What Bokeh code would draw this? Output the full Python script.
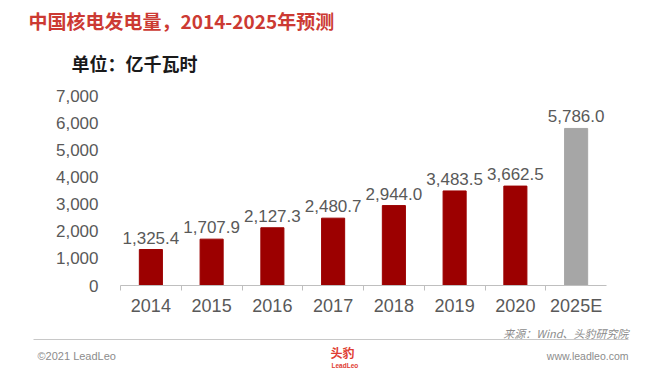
from bokeh.plotting import figure
from bokeh.layouts import column
from bokeh.models import (Range1d, FixedTicker, SingleIntervalTicker, NumeralTickFormatter,
                          ColumnDataSource)
from bokeh.core.properties import value
from bokeh.embed import file_html
from bokeh.resources import INLINE

categories = ["2014", "2015", "2016", "2017", "2018", "2019", "2020", "2025E"]
values = [1325.4, 1707.9, 2127.3, 2480.7, 2944.0, 3483.5, 3662.5, 5786.0]
is_forecast = [False, False, False, False, False, False, False, True]
y_ticks_max = 7000
y_tick_step = 1000

title_text = "中国核电发电量，2014-2025年预测"
unit_text = "单位：亿千瓦时"
source_text = "来源：Wind、头豹研究院"
copyright_text = "©2021 LeadLeo"
site_text = "www.leadleo.com"

W, H = 660, 372
HEAD_H = 80           # header strip: page y 0..80
FOOT_TOP = 326        # footer strip: page y 326..372
FL, FR, FT, FB = 120, 606, 95, 285   # chart frame edges in page pixels
RED = "#9c0000"
GREY_BAR = "#a6a6a6"
TXT = "#595959"
CJK = "Noto Sans CJK SC"
LAT = "Liberation Sans"


def strip(height):
    f = figure(width=W, height=height, output_backend="svg", toolbar_location=None,
               x_range=Range1d(0, W), y_range=Range1d(height, 0),
               min_border=0, min_border_left=0, min_border_right=0,
               min_border_top=0, min_border_bottom=0, frame_align=False)
    f.axis.visible = False
    f.grid.visible = False
    f.outline_line_color = None
    f.background_fill_color = "white"
    f.border_fill_color = "white"
    return f


def txt(f, x, y, s, size, color, align="left", style="normal", font=CJK):
    f.text(x=[x], y=[y], text=[s], text_font=value(font), text_font_size=size,
           text_color=color, text_align=align, text_baseline="middle",
           text_font_style=style)


# ---- header ----
head = strip(HEAD_H)
txt(head, 28, 19.5, title_text, "19px", "#cc3a33", style="bold")
txt(head, 71, 62.5, unit_text, "18px", "#1a1a1a", style="bold")

# ---- main chart ----
n = len(categories)
xs = [i + 0.5 for i in range(n)]
colors = [GREY_BAR if f else RED for f in is_forecast]
labels = [f"{v:,.1f}" for v in values]
src = ColumnDataSource(dict(x=xs, top=values, color=colors, label=labels))

main_h = FOOT_TOP - HEAD_H
p = figure(width=W, height=main_h, output_backend="svg", toolbar_location=None,
           x_range=Range1d(0, n), y_range=Range1d(0, y_ticks_max),
           min_border_left=FL, min_border_right=W - FR,
           min_border_top=FT - HEAD_H, min_border_bottom=FOOT_TOP - FB,
           frame_align=False)
p.outline_line_color = None
p.xgrid.visible = False
p.ygrid.visible = False
p.background_fill_color = "white"
p.border_fill_color = "white"

p.vbar(x="x", top="top", width=0.38, color="color", source=src)
p.text(x="x", y="top", text="label", source=src, text_align="center",
       text_baseline="middle", y_offset=-12, text_font=value(LAT),
       text_font_size="17px", text_color=TXT)

ya = p.yaxis[0]
ya.ticker = SingleIntervalTicker(interval=y_tick_step)
ya.formatter = NumeralTickFormatter(format="0,0")
ya.axis_line_color = None
ya.major_tick_line_color = None
ya.minor_tick_line_color = None
ya.major_label_standoff = 16
ya.major_label_text_font = LAT
ya.major_label_text_font_size = "17px"
ya.major_label_text_color = TXT

xa = p.xaxis[0]
xa.ticker = FixedTicker(ticks=xs, minor_ticks=list(range(n)))
xa.major_label_overrides = {x: c for x, c in zip(xs, categories)}
xa.axis_line_color = "#bfbfbf"
xa.major_tick_line_color = None
xa.major_tick_in = 0
xa.major_tick_out = 0
xa.minor_tick_in = 0
xa.minor_tick_out = 5
xa.minor_tick_line_color = "#bfbfbf"
xa.major_label_standoff = 5
xa.major_label_text_font = LAT
xa.major_label_text_font_size = "18px"
xa.major_label_text_color = TXT

# ---- footer ----
foot_h = H - FOOT_TOP
foot = strip(foot_h)
line_y = 339 - FOOT_TOP
foot.line(x=[33, 628], y=[line_y, line_y], line_color="#c8c8c8", line_width=1)
txt(foot, 628, 332.5 - FOOT_TOP, source_text, "11px", "#8c8c8c", align="right", style="italic")
txt(foot, 37, 355.5 - FOOT_TOP, copyright_text, "11px", "#8c8c8c", font=LAT)
txt(foot, 628, 355.5 - FOOT_TOP, site_text, "10.5px", "#8c8c8c", align="right", font=LAT)
txt(foot, 330, 352 - FOOT_TOP, "头豹", "12px", "#e03c31", style="bold")
txt(foot, 331, 364.5 - FOOT_TOP, "LeadLeo", "6.5px", "#e03c31", style="bold", font=LAT)

layout = column(head, p, foot, spacing=0)
open("out.html", "w").write(file_html(layout, INLINE))
